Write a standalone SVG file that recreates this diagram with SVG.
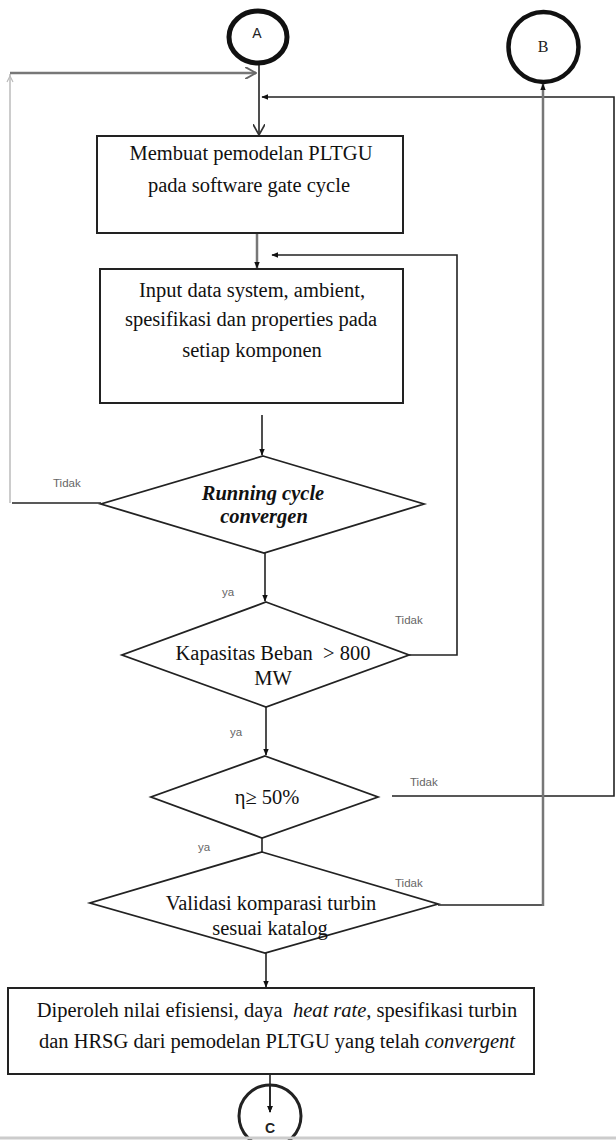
<svg xmlns="http://www.w3.org/2000/svg" width="616" height="1140" viewBox="0 0 616 1140">
<style>
.box{fill:#fff;stroke:#222;stroke-width:2}
.dia{fill:#fff;stroke:#222;stroke-width:1.8}
.t{font-family:"Liberation Serif","Times New Roman",serif;font-size:20.5px;fill:#111;text-anchor:middle}
.lbl{font-family:"Liberation Sans",Arial,sans-serif;font-size:11.5px;fill:#666}
.ln{fill:none;stroke:#222;stroke-width:1.6}
.gr{fill:none;stroke:#777;stroke-width:2.5}
.lg{fill:none;stroke:#bbb;stroke-width:1.5}
</style>
<defs>
<marker id="fa" viewBox="0 0 10 10" refX="9" refY="5" markerWidth="7" markerHeight="7" orient="auto" markerUnits="userSpaceOnUse"><path d="M0,1 L10,5 L0,9 z" fill="#111"/></marker>
<marker id="oa" viewBox="0 0 10 10" refX="9" refY="5" markerWidth="12" markerHeight="12" orient="auto" markerUnits="userSpaceOnUse"><path d="M0,0 L9,5 L0,10" fill="none" stroke="#333" stroke-width="1.4"/></marker>
<marker id="ga" viewBox="0 0 10 10" refX="9" refY="5" markerWidth="12" markerHeight="12" orient="auto" markerUnits="userSpaceOnUse"><path d="M0,0 L9,5 L0,10" fill="none" stroke="#666" stroke-width="1.6"/></marker>
</defs>
<rect width="616" height="1140" fill="#fff"/>
<g id="connectors">
<polyline class="lg" points="10,503 10,74"/>
<path d="M7,82 L10,76 L13,82" fill="none" stroke="#bbb" stroke-width="1.2"/>
<line class="gr" x1="10" y1="73" x2="256" y2="73" marker-end="url(#ga)"/>
<line class="ln" x1="101" y1="503" x2="12" y2="503" stroke-width="2.2"/>
<line class="ln" x1="259" y1="64" x2="259" y2="135" marker-end="url(#oa)"/>
<polyline class="ln" points="392,796 614,796 614,97 262,97" marker-end="url(#fa)"/>
<line class="gr" x1="257" y1="233" x2="257" y2="268" marker-end="url(#fa)"/>
<polyline class="ln" points="409,655 457,655 457,255 272,255" marker-end="url(#fa)"/>
<line class="ln" x1="262" y1="415" x2="262" y2="455" marker-end="url(#fa)"/>
<line class="ln" x1="265" y1="553" x2="265" y2="601" marker-end="url(#fa)"/>
<line class="ln" x1="266" y1="707" x2="266" y2="755" marker-end="url(#fa)"/>
<line class="ln" x1="262" y1="838" x2="262" y2="864" marker-end="url(#fa)"/>
<polyline class="ln" points="438,905 543,905" stroke-width="2"/>
<polyline class="gr" points="543,906 543,84" stroke-width="3" marker-end="url(#fa)"/>
<line class="ln" x1="266" y1="953" x2="266" y2="987" marker-end="url(#fa)"/>
<line class="ln" x1="270" y1="1065" x2="270" y2="1112" marker-end="url(#fa)"/>
</g>
<g id="nodeA">
<ellipse cx="258" cy="37" rx="29" ry="26" fill="#fff" stroke="#111" stroke-width="5"/>
<text x="257" y="38" font-family="Liberation Sans,Arial,sans-serif" font-size="14" fill="#222" text-anchor="middle">A</text>
</g>
<g id="nodeB">
<circle cx="543.5" cy="47" r="35" fill="#fff" stroke="#111" stroke-width="4.5"/>
<text x="543" y="52" font-family="Liberation Serif,Times New Roman,serif" font-size="16" fill="#222" text-anchor="middle">B</text>
</g>
<g id="box1">
<rect class="box" x="97" y="136" width="306" height="97"/>
<text class="t" x="251" y="160">Membuat pemodelan PLTGU</text>
<text class="t" x="249" y="192">pada software gate cycle</text>
</g>
<g id="box2">
<rect class="box" x="100" y="269" width="303" height="134"/>
<text class="t" x="252" y="297">Input data system, ambient,</text>
<text class="t" x="251" y="326">spesifikasi dan properties pada</text>
<text class="t" x="252" y="357">setiap komponen</text>
</g>
<g id="decision1">
<polygon class="dia" points="263,456 424,504 264,553 101,504"/>
<text class="t" x="263" y="500" font-weight="bold" font-style="italic">Running cycle</text>
<text class="t" x="264" y="523" font-weight="bold" font-style="italic">convergen</text>
</g>
<g id="decision2">
<polygon class="dia" points="266,602 409,655 266,707 122,655"/>
<text class="t" x="273" y="660" xml:space="preserve">Kapasitas Beban  &gt; 800</text>
<text class="t" x="273" y="685">MW</text>
</g>
<g id="decision3">
<polygon class="dia" points="265,756 378,797 262,838 151,797"/>
<text class="t" x="267" y="804">η≥ 50%</text>
</g>
<g id="decision4">
<polygon class="dia" points="262,852 438,904 265,953 90,903"/>
<text class="t" x="271" y="910">Validasi komparasi turbin</text>
<text class="t" x="270" y="935">sesuai katalog</text>
</g>
<g id="box3">
<rect class="box" x="8" y="988" width="526" height="86"/>
<text class="t" x="277" y="1017" xml:space="preserve">Diperoleh nilai efisiensi, daya  <tspan font-style="italic">heat rate</tspan>, spesifikasi turbin</text>
<text class="t" x="277" y="1048">dan HRSG dari pemodelan PLTGU yang telah <tspan font-style="italic">convergent</tspan></text>
</g>
<g id="nodeC">
<circle cx="270" cy="1116" r="31" fill="none" stroke="#222" stroke-width="3"/>
<line class="ln" x1="270" y1="1085" x2="270" y2="1112" marker-end="url(#fa)"/>
<text x="270" y="1133" font-family="Liberation Sans,Arial,sans-serif" font-size="14" font-weight="bold" fill="#222" text-anchor="middle">C</text>
</g>
<g id="labels">
<text class="lbl" x="53" y="487">Tidak</text>
<text class="lbl" x="222" y="596">ya</text>
<text class="lbl" x="395" y="624">Tidak</text>
<text class="lbl" x="230" y="736">ya</text>
<text class="lbl" x="410" y="786">Tidak</text>
<text class="lbl" x="198" y="851">ya</text>
<text class="lbl" x="395" y="887">Tidak</text>
</g>
<line x1="0" y1="1138" x2="616" y2="1138" stroke="#ccc" stroke-width="3"/>
</svg>
